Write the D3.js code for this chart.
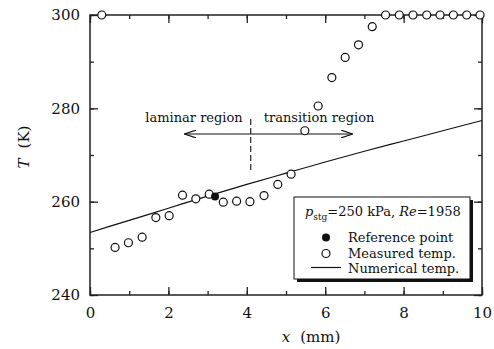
<!DOCTYPE html>
<html>
<head>
<meta charset="utf-8">
<script src="https://cdn.jsdelivr.net/npm/d3@7"></script>
<style>
  body { margin: 0; background: #fff; }
  text { font-family: "DejaVu Serif", serif; fill: #111; }
</style>
</head>
<body>
<svg id="chart" width="494" height="349"></svg>
<script>
// Measured temperatures along x (mm)
var measuredX = [0.30, 0.64, 0.98, 1.33, 1.68, 2.02, 2.36, 2.70, 3.04, 3.40, 3.74, 4.08,
                 4.44, 4.79, 5.13, 5.48, 5.82, 6.17, 6.51, 6.85, 7.20, 7.54, 7.89, 8.24,
                 8.59, 8.93, 9.27, 9.61, 9.95];
var measuredT = [300, 250.2, 251.2, 252.4, 256.6, 257.0, 261.4, 260.6, 261.6, 259.9, 260.1, 260.0,
                 261.3, 263.7, 265.9, 275.2, 280.5, 286.6, 290.9, 293.6, 297.5, 300, 300, 300,
                 300, 300, 300, 300, 300];
// Reference point
var refX = [3.19];
var refT = [261.1];
// Numerical temperature curve
var numX = [0, 1, 2, 3, 4, 5, 6, 7, 8, 9, 10];
var numT = [253.4, 256.0, 258.6, 261.2, 263.7, 266.1, 268.5, 270.8, 273.0, 275.2, 277.4];
// Ticks
var xTicks = [0, 2, 4, 6, 8, 10];
var yTicks = [240, 260, 280, 300];
var boundaryX = 4.1;

var margin = {top: 15, right: 12, bottom: 54, left: 90},
    width = 494 - margin.left - margin.right,
    height = 349 - margin.top - margin.bottom;

var svg = d3.select('#chart');
var g = svg.append('g')
    .attr('transform', 'translate(' + margin.left + ',' + margin.top + ')');

var x = d3.scaleLinear().domain([0, 10]).range([0, width]);
var y = d3.scaleLinear().domain([240, 300]).range([height, 0]);

// Axes: ticks point inward on all four sides
function styleAxis(sel) {
    sel.select('.domain').remove();
    sel.selectAll('line').attr('stroke', '#222').attr('stroke-width', 1.3);
}
var minorX = d3.range(0, 11, 1), minorY = d3.range(240, 301, 10);

g.append('g').attr('transform', 'translate(0,' + height + ')')
    .call(d3.axisBottom(x).tickValues(minorX).tickSize(-4).tickFormat(''))
    .call(styleAxis);
g.append('g').attr('transform', 'translate(0,' + height + ')')
    .call(d3.axisBottom(x).tickValues(xTicks).tickSize(-8).tickPadding(12).tickFormat(d3.format('d')))
    .call(styleAxis)
    .selectAll('text').style('font-size', '15px').attr('dy', '0.75em');
g.append('g')
    .call(d3.axisTop(x).tickValues(minorX).tickSize(-4).tickFormat(''))
    .call(styleAxis);
g.append('g')
    .call(d3.axisTop(x).tickValues(xTicks).tickSize(-8).tickFormat(''))
    .call(styleAxis);
g.append('g')
    .call(d3.axisLeft(y).tickValues(minorY).tickSize(-4).tickFormat(''))
    .call(styleAxis);
g.append('g')
    .call(d3.axisLeft(y).tickValues(yTicks).tickSize(-8).tickPadding(10).tickFormat(d3.format('d')))
    .call(styleAxis)
    .selectAll('text').style('font-size', '15px');
g.append('g').attr('transform', 'translate(' + width + ',0)')
    .call(d3.axisRight(y).tickValues(minorY).tickSize(-4).tickFormat(''))
    .call(styleAxis);
g.append('g').attr('transform', 'translate(' + width + ',0)')
    .call(d3.axisRight(y).tickValues(yTicks).tickSize(-8).tickFormat(''))
    .call(styleAxis);

g.append('rect')
    .attr('width', width).attr('height', height)
    .attr('fill', 'none').attr('stroke', '#222').attr('stroke-width', 1.5);

// Numerical temperature line
var line = d3.line()
    .x(function(d) { return x(d[0]); })
    .y(function(d) { return y(d[1]); })
    .curve(d3.curveMonotoneX);
g.append('path')
    .datum(d3.zip(numX, numT))
    .attr('d', line)
    .attr('fill', 'none').attr('stroke', '#111').attr('stroke-width', 1.2);

// Region annotation
var arrowY = 119;
var defs = svg.append('defs');
['start', 'end'].forEach(function(k) {
    defs.append('marker')
        .attr('id', 'arrow-' + k)
        .attr('viewBox', '0 0 12 8').attr('refX', 12).attr('refY', 4)
        .attr('markerWidth', 12).attr('markerHeight', 8)
        .attr('markerUnits', 'userSpaceOnUse')
        .attr('orient', k === 'start' ? 'auto-start-reverse' : 'auto')
      .append('path')
        .attr('d', 'M0,0 L12,4 L0,8')
        .attr('fill', 'none').attr('stroke', '#111').attr('stroke-width', 1.2);
});
g.append('line')
    .attr('x1', x(2.41)).attr('x2', x(6.70))
    .attr('y1', arrowY).attr('y2', arrowY)
    .attr('stroke', '#111').attr('stroke-width', 1.2)
    .attr('marker-start', 'url(#arrow-start)')
    .attr('marker-end', 'url(#arrow-end)');
g.append('line')
    .attr('x1', x(boundaryX)).attr('x2', x(boundaryX))
    .attr('y1', 104).attr('y2', 157)
    .attr('stroke', '#222').attr('stroke-width', 1.2)
    .attr('stroke-dasharray', '6,3');
g.append('text')
    .attr('x', x(boundaryX) - 8).attr('y', 107)
    .attr('text-anchor', 'end').style('font-size', '13px')
    .text('laminar region');
g.append('text')
    .attr('x', x(boundaryX) + 13).attr('y', 107)
    .style('font-size', '13px')
    .text('transition region');

// Measured points
g.selectAll('circle.measured')
    .data(d3.zip(measuredX, measuredT))
    .enter().append('circle')
    .attr('class', 'measured')
    .attr('cx', function(d) { return x(d[0]); })
    .attr('cy', function(d) { return y(d[1]); })
    .attr('r', 4)
    .attr('fill', '#fff').attr('stroke', '#111').attr('stroke-width', 1.2);

// Reference point
g.selectAll('circle.ref')
    .data(d3.zip(refX, refT))
    .enter().append('circle')
    .attr('class', 'ref')
    .attr('cx', function(d) { return x(d[0]); })
    .attr('cy', function(d) { return y(d[1]); })
    .attr('r', 4)
    .attr('fill', '#111');

// Legend
var lg = svg.append('g').attr('transform', 'translate(294,197)');
lg.append('rect').attr('x', 3).attr('y', 3).attr('width', 176).attr('height', 82).attr('fill', '#111');
lg.append('rect').attr('width', 176).attr('height', 82)
    .attr('fill', '#fff').attr('stroke', '#111').attr('stroke-width', 1);

var title = lg.append('text').attr('x', 11).attr('y', 19).style('font-size', '13px');
title.append('tspan').style('font-style', 'italic').text('p');
title.append('tspan').attr('dy', 4).style('font-size', '9px').text('stg');
title.append('tspan').attr('dy', -4).text('=250 kPa, ');
title.append('tspan').style('font-style', 'italic').text('Re');
title.append('tspan').text('=1958');

lg.append('circle').attr('cx', 32).attr('cy', 40.5).attr('r', 4).attr('fill', '#111');
lg.append('circle').attr('cx', 32).attr('cy', 56.5).attr('r', 4)
    .attr('fill', '#fff').attr('stroke', '#111').attr('stroke-width', 1.2);
lg.append('line').attr('x1', 17).attr('x2', 47).attr('y1', 70.5).attr('y2', 70.5)
    .attr('stroke', '#111').attr('stroke-width', 1.2);
var labels = ['Reference point', 'Measured temp.', 'Numerical temp.'];
lg.selectAll('text.lab').data(labels).enter().append('text')
    .attr('class', 'lab')
    .attr('x', 54)
    .attr('y', function(d, i) { return 45 + i * 15.5; })
    .style('font-size', '13px')
    .text(function(d) { return d; });

// Axis titles
var xt = svg.append('text').attr('x', 311).attr('y', 342)
    .attr('text-anchor', 'middle').style('font-size', '15px');
xt.append('tspan').style('font-style', 'italic').text('x');
xt.append('tspan').attr('dx', 10).text('(mm)');

var yt = svg.append('text')
    .attr('transform', 'translate(29,147) rotate(-90)')
    .attr('text-anchor', 'middle').style('font-size', '15px');
yt.append('tspan').style('font-style', 'italic').text('T');
yt.append('tspan').attr('dx', 10).text('(K)');
</script>
</body>
</html>
